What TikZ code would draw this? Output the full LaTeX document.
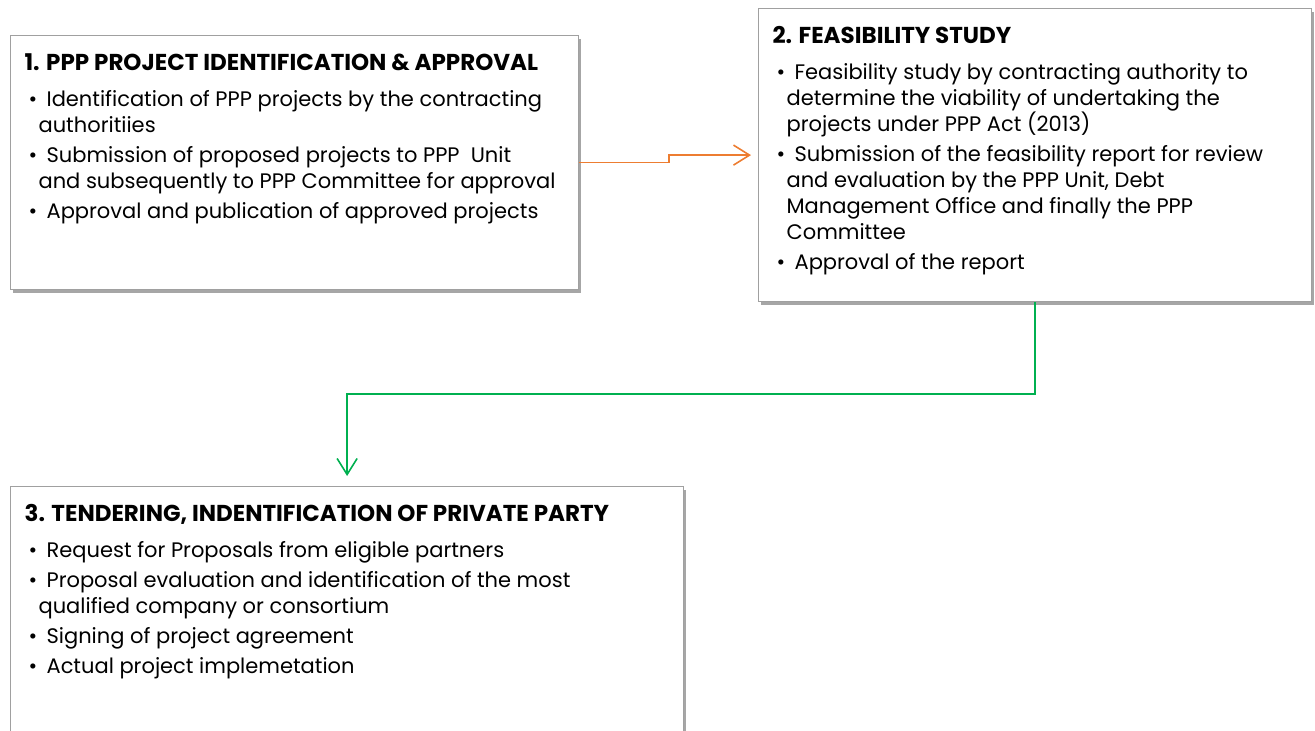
\documentclass[tikz,border=0pt]{standalone}
\usepackage{fontspec}
\setmainfont{Poppins}
\usetikzlibrary{positioning,shadows,arrows.meta}

\definecolor{pptorange}{HTML}{ED7D31}
\definecolor{pptgreen}{HTML}{00B050}
\definecolor{boxline}{HTML}{A0A0A0}

% one bullet line of a stage box
\newcommand{\stageitem}[1]{\par\hangindent=14pt\hangafter=1\hspace*{4pt}\makebox[18pt][l]{\textbullet}#1}
\newcommand{\stagehead}[1]{{\bfseries\fontsize{23}{26}\selectfont #1}\par\vspace{6pt}}

\begin{document}
\begin{tikzpicture}[
    x=1pt, y=-1pt,
    stagebox/.style={rectangle, draw=boxline, line width=1.2pt, fill=white, anchor=north west,
        inner xsep=14pt, inner ysep=18pt, font=\fontsize{21}{26}\selectfont,
        drop shadow={shadow xshift=2pt, shadow yshift=-3pt, fill=black, opacity=0.35}},
    link/.style={line width=1.6pt, -{Straight Barb[length=16pt, width=20pt, line width=1.6pt]}}
]
    \clip (0,0) rectangle (1315,731);

    % Stages
    \node[stagebox] (b1) at (10,35) {\parbox[c][218pt][t]{540pt}{\parskip=4pt%
        \stagehead{1. PPP PROJECT IDENTIFICATION \& APPROVAL}%
        \stageitem{Identification of PPP projects by the contracting\newline authoritiies}%
        \stageitem{Submission of proposed projects to PPP\ \ Unit\newline and subsequently to PPP Committee for approval}%
        \stageitem{Approval and publication of approved projects}}};

    \node[stagebox] (b2) at (758,8) {\parbox[c][257pt][t]{525pt}{\parskip=4pt%
        \stagehead{2. FEASIBILITY STUDY}%
        \stageitem{Feasibility study by contracting authority to\newline determine the viability of undertaking the\newline projects under PPP Act (2013)}%
        \stageitem{Submission of the feasibility report for review\newline and evaluation by the PPP Unit, Debt\newline Management Office and finally the PPP\newline Committee}%
        \stageitem{Approval of the report}}};

    \node[stagebox] (b3) at (10,486) {\parbox[c][254pt][t]{645pt}{\parskip=4pt%
        \stagehead{3. TENDERING, INDENTIFICATION OF PRIVATE PARTY}%
        \stageitem{Request for Proposals from eligible partners}%
        \stageitem{Proposal evaluation and identification of the most\newline qualified company or consortium}%
        \stageitem{Signing of project agreement}%
        \stageitem{Actual project implemetation}}};

    % Connectors
    \draw[link, pptorange, shorten >=7pt] (b1.east) -- ++(90,0) |- (b2.west);
    \draw[link, pptgreen, shorten >=10pt] (b2.south) -- ++(0,92) -| (b3.north);
\end{tikzpicture}
\end{document}
